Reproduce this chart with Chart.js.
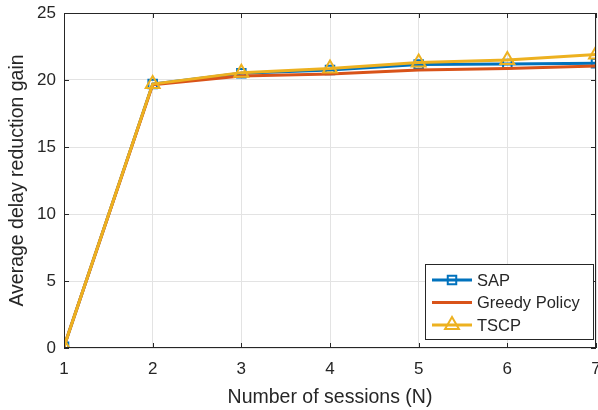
<!DOCTYPE html>
<html>
<head>
<meta charset="utf-8">
<script src="https://cdn.jsdelivr.net/npm/chart.js@4/dist/chart.umd.min.js"></script>
<style>
  html, body { margin: 0; padding: 0; background: #fff; }
  #wrap { width: 598px; height: 410px; }
</style>
</head>
<body>
<div id="wrap"><canvas id="gainChart" width="598" height="410"></canvas></div>
<script>
// data
var sessions = [1, 2, 3, 4, 5, 6, 7];
var sapGain = [0.1, 19.7, 20.5, 20.75, 21.15, 21.2, 21.25];
var greedyGain = [0.1, 19.65, 20.3, 20.45, 20.75, 20.85, 21.05];
var tscpGain = [0.1, 19.7, 20.55, 20.85, 21.3, 21.5, 21.9];
var yTicks = [0, 5, 10, 15, 20, 25];

var TEXT = '#262626';
var FONT = '"Liberation Sans", Arial, Helvetica, sans-serif';

function toPoints(vals) {
  return vals.map(function (v, i) { return { x: sessions[i], y: v }; });
}

// box around the axes and ticks pointing inwards, like matlab
var boxPlugin = {
  id: 'axesBox',
  afterDatasetsDraw: function (chart) {
    var ctx = chart.ctx, a = chart.chartArea;
    var xs = chart.scales.x, ys = chart.scales.y;
    ctx.save();
    ctx.strokeStyle = TEXT;
    ctx.lineWidth = 1;
    ctx.strokeRect(a.left + 0.5, a.top + 0.5, a.right - a.left - 1, a.bottom - a.top - 1);
    ctx.beginPath();
    sessions.forEach(function (s) {
      var px = Math.round(xs.getPixelForValue(s)) + 0.5;
      ctx.moveTo(px, a.bottom); ctx.lineTo(px, a.bottom - 5);
      ctx.moveTo(px, a.top); ctx.lineTo(px, a.top + 5);
    });
    yTicks.forEach(function (t) {
      var py = Math.round(ys.getPixelForValue(t)) + 0.5;
      ctx.moveTo(a.left, py); ctx.lineTo(a.left + 5, py);
      ctx.moveTo(a.right, py); ctx.lineTo(a.right - 5, py);
    });
    ctx.stroke();
    ctx.restore();
  }
};

// legend box in the lower right corner
var legendPlugin = {
  id: 'cornerLegend',
  afterDraw: function (chart) {
    var ctx = chart.ctx, a = chart.chartArea;
    var w = 168, h = 75;
    var x0 = a.right - 171, y0 = a.bottom - 84;
    ctx.save();
    ctx.fillStyle = '#fff';
    ctx.fillRect(x0, y0, w, h);
    ctx.strokeStyle = TEXT;
    ctx.lineWidth = 1;
    ctx.strokeRect(x0 + 0.5, y0 + 0.5, w, h);
    var ds = chart.data.datasets;
    [0, 1, 2].forEach(function (i, r) {
      var d = ds[i];
      var cy = y0 + 16 + r * 22.5;
      ctx.strokeStyle = d.borderColor;
      ctx.lineWidth = 3;
      ctx.beginPath();
      ctx.moveTo(x0 + 7, cy); ctx.lineTo(x0 + 47, cy);
      ctx.stroke();
      if (d.pointRadius > 0) {
        ctx.fillStyle = 'rgba(0,0,0,0)';
        ctx.lineWidth = d.pointBorderWidth;
        Chart.helpers.drawPoint(ctx, {
          pointStyle: d.pointStyle, radius: d.pointRadius, borderWidth: d.pointBorderWidth
        }, x0 + 27, cy);
      }
      ctx.fillStyle = TEXT;
      ctx.font = '16.5px ' + FONT;
      ctx.textBaseline = 'middle';
      ctx.fillText(d.label, x0 + 52, cy + 1);
    });
    ctx.restore();
  }
};

new Chart(document.getElementById('gainChart'), {
  type: 'line',
  data: {
    datasets: [{
      label: 'SAP',
      data: toPoints(sapGain),
      borderColor: '#0072BD',
      backgroundColor: 'transparent',
      borderWidth: 3,
      pointStyle: 'rect',
      pointRadius: 6,
      pointBorderWidth: 2,
      pointBackgroundColor: 'transparent',
      order: 3
    }, {
      label: 'Greedy Policy',
      data: toPoints(greedyGain),
      borderColor: '#D95319',
      backgroundColor: 'transparent',
      borderWidth: 3,
      pointRadius: 0,
      order: 2
    }, {
      label: 'TSCP',
      data: toPoints(tscpGain),
      borderColor: '#EDB120',
      backgroundColor: 'transparent',
      borderWidth: 3,
      pointStyle: 'triangle',
      pointRadius: 8,
      pointBorderWidth: 2,
      pointBackgroundColor: 'transparent',
      order: 1
    }]
  },
  options: {
    responsive: false,
    animation: false,
    layout: { autoPadding: false, padding: { top: 13, right: 2, left: 0, bottom: 0 } },
    plugins: { legend: { display: false }, tooltip: { enabled: false } },
    elements: { line: { tension: 0 } },
    scales: {
      x: {
        type: 'linear',
        min: 1, max: 7,
        afterFit: function (s) { s.height = 62; s.paddingLeft = 0; s.paddingRight = 0; },
        afterBuildTicks: function (s) { s.ticks = sessions.map(function (v) { return { value: v }; }); },
        grid: { color: '#e3e3e3', drawTicks: false },
        border: { display: false },
        ticks: { color: TEXT, font: { family: FONT, size: 17 }, padding: 11, maxRotation: 0 },
        title: {
          display: true, text: 'Number of sessions (N)', color: TEXT,
          font: { family: FONT, size: 19.5 }, padding: { top: 0, bottom: 1 }
        }
      },
      y: {
        min: 0, max: 25,
        afterFit: function (s) { s.width = 64; s.paddingTop = 0; s.paddingBottom = 0; },
        afterBuildTicks: function (s) { s.ticks = yTicks.map(function (v) { return { value: v }; }); },
        grid: { color: '#e3e3e3', drawTicks: false },
        border: { display: false },
        ticks: { color: TEXT, font: { family: FONT, size: 17 }, padding: 8 },
        title: {
          display: true, text: 'Average delay reduction gain', color: TEXT,
          font: { family: FONT, size: 19.5 }, padding: { top: 6, bottom: 0 }
        }
      }
    }
  },
  plugins: [boxPlugin, legendPlugin]
});
</script>
</body>
</html>
